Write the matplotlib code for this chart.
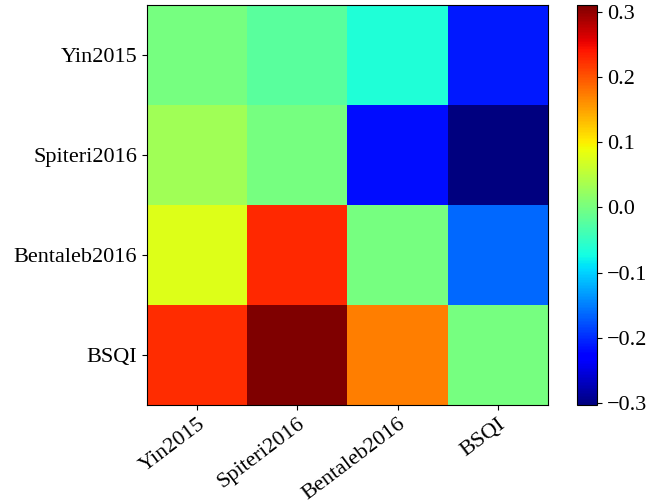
import numpy as np
import matplotlib
matplotlib.use("Agg")
import matplotlib.pyplot as plt

plt.rcParams['font.family'] = ['Liberation Serif', 'DejaVu Serif']
plt.rcParams['font.size'] = 16

methods = ["Yin2015", "Spiteri2016", "Bentaleb2016", "BSQI"]

# pairwise score differences, row method vs column method
row_yin = [0.0, -0.021, -0.064, -0.211]
row_spiteri = [0.031, 0.0, -0.217, -0.303]
row_bentaleb = [0.077, 0.228, 0.0, -0.164]
row_bsqi = [0.224, 0.31, 0.172, 0.0]

diff = np.array([row_yin, row_spiteri, row_bentaleb, row_bsqi])

fig = plt.figure(figsize=(6.49, 5.03), dpi=100)
ax = fig.add_axes([147/649, 1 - 405/503, 401/649, 400/503])
cax = fig.add_axes([577/649, 1 - 405/503, 20/649, 400/503])

im = ax.imshow(diff, cmap='jet', aspect='auto')
ax.set_xticks(range(len(methods)))
ax.set_yticks(range(len(methods)))
ax.set_xticklabels(methods, rotation=37, ha='right', rotation_mode='anchor')
ax.set_yticklabels(methods)

cb = fig.colorbar(im, cax=cax)
cb.set_ticks([-0.3, -0.2, -0.1, 0.0, 0.1, 0.2, 0.3])

fig.savefig("out.png", dpi=100)
